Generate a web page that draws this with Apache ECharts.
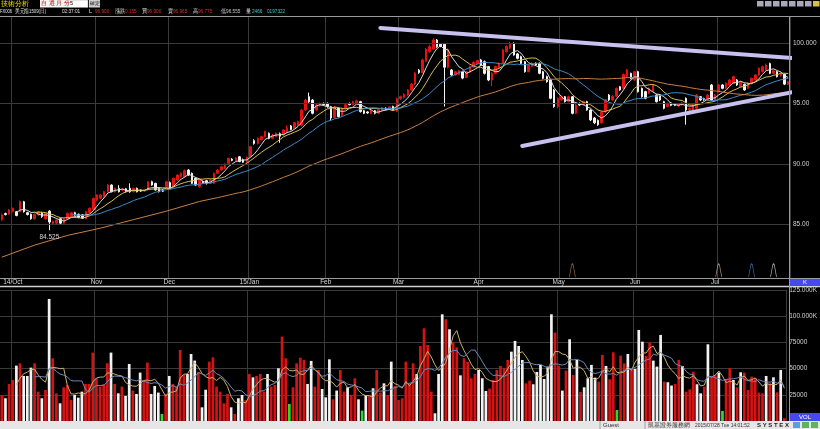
<!DOCTYPE html>
<html><head><meta charset="utf-8">
<script src="https://cdn.jsdelivr.net/npm/echarts@6/dist/echarts.min.js"></script>
<style>html,body{margin:0;padding:0;background:#000;overflow:hidden}#c{width:820px;height:429px}</style>
</head><body><div id="c"></div>
<script>
// ---------- data ----------
const startDate = '2014-09-26';
const skipDates = ['2014-12-25', '2015-01-01'];
const greenDays = ['2014-11-27', '2015-01-19', '2015-02-16', '2015-05-25', '2015-07-03'];
const monthLabelText = {'2014-10':'14/Oct','2014-11':'Nov','2014-12':'Dec','2015-01':'15/Jan','2015-02':'Feb','2015-03':'Mar','2015-04':'Apr','2015-05':'May','2015-06':'Jun','2015-07':'Jul'};
const priceTicks = [85, 90, 95, 100];
const priceTickLabels = {85:'85.00', 90:'90.00', 95:'95.00', 100:'100.000'};
const volTickLabels = {25000:'25000', 50000:'50000', 75000:'75000', 100000:'100.000K', 125000:'125.000K'};

const opens = [85.40,85.90,85.85,86.08,86.06,86.06,86.88,85.98,85.85,85.47,85.79,85.93,85.47,86.10,85.05,85.11,85.47,85.11,85.47,85.66,
85.98,85.85,85.79,85.47,85.98,86.25,87.02,87.16,87.30,87.71,88.26,87.71,87.99,87.85,87.95,87.99,87.71,87.99,87.85,87.77,
87.85,88.54,88.40,87.99,87.85,88.13,88.46,88.13,88.68,88.95,88.95,89.50,89.23,88.82,88.13,88.55,88.62,88.40,88.40,89.23,
89.50,89.64,90.05,90.40,90.30,90.60,90.35,90.15,90.60,91.93,91.70,92.00,92.26,92.54,92.12,92.26,92.50,92.40,92.67,93.15,
92.95,93.22,93.20,94.46,95.56,95.29,94.46,94.80,95.01,95.01,94.74,93.85,94.60,94.00,94.60,95.00,94.90,95.05,95.15,94.40,
94.30,94.19,94.40,94.19,94.40,94.62,94.52,94.75,94.35,95.40,95.50,95.70,96.12,96.60,97.75,97.55,98.50,99.30,99.50,100.25,
99.90,99.90,98.00,97.77,97.36,97.40,97.63,97.15,97.60,98.00,98.30,98.60,98.46,98.05,96.94,97.49,97.95,98.32,99.30,99.56,
99.97,99.10,98.87,98.46,97.63,98.05,98.32,98.32,97.63,97.22,96.94,96.12,94.74,95.29,95.56,95.15,95.56,94.19,95.01,94.88,
95.15,94.46,93.80,93.60,93.40,94.30,95.70,95.29,95.60,96.39,96.25,97.22,97.49,96.94,97.63,96.25,95.98,95.84,96.00,95.70,
95.70,95.15,94.75,95.05,94.95,94.80,94.90,95.43,94.46,94.46,94.60,95.56,95.40,95.29,96.53,95.29,95.98,96.53,96.25,96.53,
96.67,96.94,96.39,96.58,96.25,96.67,96.94,97.36,97.63,97.77,98.30,97.49,97.63,97.30,97.40,96.60];
const closes = [85.80,85.82,86.20,86.34,85.74,86.88,86.06,85.82,85.47,85.85,86.06,85.66,85.93,85.20,85.25,85.38,85.11,85.47,85.93,85.98,
85.79,85.58,85.52,86.06,86.34,87.16,87.44,87.44,87.71,88.26,87.71,87.99,87.71,87.95,87.71,87.71,87.99,87.71,87.77,87.88,
88.54,88.26,87.85,87.71,87.75,88.54,88.00,88.82,89.09,89.23,89.45,89.09,88.40,88.26,88.68,88.45,88.40,88.68,89.23,89.50,
89.78,89.98,90.47,90.30,90.50,90.20,90.15,90.55,91.43,91.70,92.12,92.26,92.67,92.12,92.40,92.54,92.30,92.81,92.95,92.85,
93.42,93.50,94.46,95.29,95.15,94.19,94.88,95.01,94.90,94.74,93.80,94.70,93.91,94.60,94.90,94.90,95.15,95.22,94.33,94.19,
94.22,94.40,94.19,94.50,94.65,94.52,94.72,94.45,95.40,95.56,95.75,96.12,96.60,97.50,97.55,98.60,99.50,99.70,100.25,99.70,
99.75,98.00,99.45,97.36,97.63,97.70,97.10,97.63,98.05,98.40,98.55,98.18,97.49,96.94,97.50,98.05,98.32,99.42,99.70,99.97,
99.01,98.73,98.32,97.63,98.18,98.32,98.18,97.49,97.08,96.80,95.43,94.74,95.43,95.56,95.15,95.56,94.19,94.88,94.88,95.15,
94.46,93.64,93.40,93.25,94.30,95.30,95.29,95.60,96.25,96.12,97.40,97.77,97.08,97.63,95.98,95.56,95.43,96.25,96.53,95.15,
95.29,94.60,95.00,94.85,94.85,94.95,95.05,94.46,94.60,94.88,95.70,95.29,95.30,95.70,95.29,95.70,96.53,96.25,96.67,96.94,
97.22,96.53,96.80,96.12,96.67,97.08,97.36,97.91,98.04,98.18,97.49,97.70,97.22,97.45,96.60,96.80];
const highs = [85.90,85.98,86.28,86.40,86.12,86.98,86.95,86.05,85.90,85.92,86.12,86.05,86.00,86.18,85.33,85.45,85.55,85.52,85.98,86.05,
86.05,85.90,85.85,86.12,86.40,87.22,87.50,87.52,87.78,88.35,88.32,88.05,88.25,88.00,88.02,88.40,88.05,88.05,87.90,87.95,
88.60,88.62,88.45,88.05,87.92,88.60,88.55,88.88,89.15,89.30,89.55,89.58,89.30,88.88,88.75,88.62,88.70,88.75,89.30,89.58,
89.85,90.05,90.52,90.48,90.58,90.65,90.45,90.62,91.50,92.05,92.20,92.35,92.75,92.60,92.48,92.62,92.60,92.88,93.20,93.22,
93.48,93.58,94.55,95.40,95.90,95.35,94.95,95.08,95.08,95.08,94.80,94.80,94.68,94.68,94.98,95.08,95.22,95.30,95.22,94.46,
94.36,94.46,94.46,94.56,94.72,94.68,94.78,94.82,95.48,95.65,95.85,96.20,96.70,97.60,97.85,98.70,99.60,99.85,100.40,100.33,
100.00,100.00,99.55,97.85,97.70,97.78,97.70,97.70,98.12,98.48,98.62,98.68,98.55,98.10,97.60,98.12,98.40,99.50,99.80,100.10,
100.05,99.18,98.95,98.52,98.25,98.40,98.40,98.40,97.70,97.30,97.00,96.20,95.50,95.65,95.62,95.65,95.62,94.95,95.08,95.22,
95.22,94.52,93.88,93.68,94.38,95.38,95.78,95.68,96.32,96.45,97.48,97.85,97.55,97.70,97.70,96.32,96.05,96.32,96.60,95.78,
95.78,95.22,95.08,95.12,95.02,95.02,95.12,95.50,94.68,94.95,95.78,95.62,95.48,95.78,96.60,95.78,96.60,96.60,96.75,97.02,
97.30,97.02,96.88,96.65,96.75,97.15,97.42,97.98,98.12,98.30,98.38,97.78,97.70,97.52,97.48,96.88];
const lows = [85.30,85.75,85.80,86.00,85.68,86.00,85.98,85.75,85.40,85.40,85.72,85.55,85.40,84.525,84.95,85.02,85.05,85.05,85.40,85.60,
85.72,85.52,85.45,85.42,85.92,86.20,86.95,87.10,87.22,87.65,87.65,87.65,87.65,87.78,87.65,87.62,87.65,87.65,87.70,87.70,
87.80,88.20,87.80,87.65,87.68,88.05,87.92,88.05,88.60,88.88,88.90,89.02,88.35,88.20,88.05,88.38,88.30,88.35,88.35,89.15,
89.45,89.58,90.00,90.22,90.25,90.15,90.10,90.10,90.55,91.60,91.62,91.95,92.20,92.05,92.05,92.20,91.75,92.30,92.60,92.78,
92.90,93.15,93.10,94.40,95.05,94.10,94.40,94.72,94.82,94.65,93.55,93.78,93.85,93.95,94.52,94.85,94.85,95.00,94.25,94.12,
94.15,94.12,94.10,94.12,94.35,94.45,94.46,94.38,94.30,95.30,95.42,95.62,96.05,96.55,97.45,97.50,98.45,99.20,99.45,99.60,
99.65,94.75,97.90,97.28,97.30,97.35,97.00,97.10,97.55,97.95,98.25,98.10,97.40,96.85,96.45,97.42,97.90,98.28,99.20,99.50,
98.95,98.65,98.25,97.55,97.58,98.00,98.10,97.42,97.00,96.72,95.35,94.65,94.60,95.20,95.08,95.10,94.10,94.12,94.80,94.82,
94.40,93.55,93.30,93.15,93.32,94.25,95.20,95.22,95.55,96.05,96.20,97.15,97.00,96.88,95.90,95.48,95.35,95.78,95.95,95.08,
95.20,94.52,94.68,94.78,94.78,94.72,94.82,93.25,94.38,94.40,94.52,95.22,95.22,95.22,95.22,95.22,95.90,96.18,96.18,96.45,
96.60,96.45,96.32,96.05,96.18,96.60,96.88,97.30,97.55,97.70,97.42,97.42,97.15,97.22,96.52,96.52];
const volumes = [25000,21900,35500,39300,52900,55100,43100,43100,51000,55100,28200,21900,29800,116300,59900,26600,17100,32300,34500,20300,
25000,22500,28200,35500,35500,65300,40900,33000,35500,55100,65300,35500,26600,33000,24100,54500,29200,26000,46300,38300,
55800,26000,33600,27300,7000,26000,43100,35500,33000,67800,44000,45000,64000,57700,46900,13300,30000,56700,60800,33000,
28200,17100,26000,13300,7000,21900,25000,20000,45000,41800,43100,45000,28200,45000,33000,34500,50400,80500,59900,16500,
32300,55100,60500,58300,35500,57400,33000,48800,30700,22800,58900,20900,29200,48800,28200,32300,25000,40900,20900,10100,
25000,25000,31400,48800,27300,36100,25000,56700,33600,20300,21900,56700,36100,55100,45000,71600,88400,72600,28200,7600,
45000,101700,97000,87500,74800,70300,43700,59900,56400,40900,45000,48800,40900,28800,31100,39300,48800,52600,50400,58300,
66200,76400,71600,58300,36100,38700,35200,46900,53600,40200,52000,101700,84300,52900,29200,48200,78000,44000,58300,27900,
32300,40900,53600,41500,37700,63100,52600,39900,65600,10800,62400,55100,64000,49800,49800,86800,75700,62100,74800,57700,
52000,82100,37700,37100,34000,35500,58300,52600,28200,30400,47200,35200,26600,33000,73200,42500,44000,46300,9800,40200,
50400,39300,32300,46600,46300,29800,42500,40900,27300,26600,43100,36100,41800,27600,48800,3000];
// long average line for the first weeks (before 60 sessions exist)
const ma60Early = [[0,82.3],[9,83.3],[18,84.1],[27,84.7],[36,85.4],[45,86.1],[54,86.9]];
// hand-drawn trend lines: [session index, price]
const upperTrend = [[103.5,101.24],[219.6,98.68]];
const lowerTrend = [[142.3,91.49],[216.3,95.95]];
// event markers: session index and colour
const eventMarks = [[156,'#b07848'],[196,'#c8b088'],[205,'#4a78c0'],[211,'#d0d0d0']];

// ---------- derived ----------
const N = opens.length;
const dates = [];
{
  let d = new Date(startDate + 'T00:00:00Z');
  while (dates.length < N) {
    const wd = d.getUTCDay(); const s = d.toISOString().slice(0,10);
    if (wd !== 0 && wd !== 6 && !skipDates.includes(s)) dates.push(s);
    d.setUTCDate(d.getUTCDate() + 1);
  }
}
const monthStart = new Set();
for (let i = 1; i < N; i++) if (dates[i].slice(0,7) !== dates[i-1].slice(0,7)) monthStart.add(i);
function ma(arr, n) { return arr.map((_, i) => i < n - 1 ? null : +(arr.slice(i - n + 1, i + 1).reduce((a, b) => a + b, 0) / n).toFixed(3)); }
const kdata = opens.map((o, i) => [o, closes[i], lows[i], highs[i]]);
const ma5 = ma(closes, 5), ma10 = ma(closes, 10), ma20 = ma(closes, 20);
const ma60 = ma(closes, 60);
ma60Early.forEach(([k, v]) => { ma60[k] = v; });
const vma5 = ma(volumes, 5), vma10 = ma(volumes, 10);
const volColor = volumes.map((v, i) => greenDays.includes(dates[i]) ? '#2ed82e' : (closes[i] >= opens[i] ? '#d41414' : '#f2f2f2'));

const UP = '#e41212', DOWN = '#f4f4f4', GRID = '#3a3a3a';
const FONT = '"Liberation Sans", "DejaVu Sans", sans-serif';
const T = (t, x, y, fill, size, sx, extra) => Object.assign({type:'text', x, y, silent:true, z:50, scaleX: sx || 1,
  style:{text:t, fill, font:(size||6) + 'px ' + FONT, textVerticalAlign:'top'}}, extra || {});

const chart = echarts.init(document.getElementById('c'), null, {renderer:'canvas'});
chart.setOption({
  backgroundColor: '#000',
  animation: false,
  grid: [
    {left: -1, width: 791, top: 16, height: 262},
    {left: -1, width: 791, top: 289.8, height: 131.5}
  ],
  xAxis: [
    {type:'category', gridIndex:0, data:dates, boundaryGap:true, axisLine:{show:false}, axisTick:{show:false}, axisLabel:{show:false},
     splitLine:{show:true, interval:(i)=>monthStart.has(i), lineStyle:{color:GRID, width:1}}},
    {type:'category', gridIndex:1, data:dates, boundaryGap:true, position:'top', axisLine:{show:false}, axisTick:{show:false},
     axisLabel:{show:true, interval:(i)=>monthStart.has(i), formatter:(v)=>monthLabelText[v.slice(0,7)]||'', color:'#d8d8d8', fontSize:6.5, fontFamily:FONT, margin:4},
     splitLine:{show:true, interval:(i)=>monthStart.has(i), lineStyle:{color:GRID, width:1}}},
    {type:'value', gridIndex:0, min:-0.5, max:N-0.5, show:false}
  ],
  yAxis: [
    {type:'value', gridIndex:0, position:'right', min:80.578, max:102.231, axisLine:{show:false}, axisTick:{show:false}, axisLabel:{show:false}, splitLine:{show:false}},
    {type:'value', gridIndex:1, position:'right', min:0, max:125000, interval:25000, axisLine:{show:false}, axisTick:{show:false},
     axisLabel:{show:true, formatter:(v)=>volTickLabels[v]||'', color:'#d0d0d0', fontSize:6.5, fontFamily:FONT, margin:3},
     splitLine:{show:true, showMinLine:false, lineStyle:{color:GRID, width:1}}}
  ],
  series: [
    {type:'candlestick', xAxisIndex:0, yAxisIndex:0, data:kdata, barWidth:2,
     itemStyle:{color:UP, color0:DOWN, borderColor:UP, borderColor0:DOWN, borderWidth:1},
     markLine:{silent:true, symbol:['none','none'], animation:false,
       lineStyle:{color:GRID, type:'solid', width:1},
       label:{show:true, position:'end', distance:3, color:'#d0d0d0', fontSize:6.5, fontFamily:FONT, formatter:(p)=>priceTickLabels[p.value]},
       data: priceTicks.map(v=>({yAxis:v}))},
     markPoint:{silent:true, animation:false,
       data:[{type:'min', valueDim:'lowest', symbol:'rect', symbolSize:1, itemStyle:{color:'rgba(0,0,0,0)'},
         label:{show:true, position:'bottom', distance:3, color:'#d8d8d8', fontSize:6.5, fontFamily:FONT, formatter:(p)=>p.value.toFixed(3)}}]},
     z:3},
    {type:'line', xAxisIndex:0, yAxisIndex:0, data:ma5, symbol:'none', lineStyle:{color:'#dcdcdc', width:1}, z:4},
    {type:'line', xAxisIndex:0, yAxisIndex:0, data:ma10, symbol:'none', lineStyle:{color:'#d8c050', width:1}, z:4},
    {type:'line', xAxisIndex:0, yAxisIndex:0, data:ma20, symbol:'none', lineStyle:{color:'#3c8cc8', width:1}, z:4},
    {type:'line', xAxisIndex:0, yAxisIndex:0, data:ma60, symbol:'none', connectNulls:true, lineStyle:{color:'#c88040', width:1}, z:4},
    {type:'line', xAxisIndex:2, yAxisIndex:0, data:upperTrend, symbol:'none', clip:false, lineStyle:{color:'#c8c0ee', width:4, cap:'round'}, z:6},
    {type:'line', xAxisIndex:2, yAxisIndex:0, data:lowerTrend, symbol:'none', clip:false, lineStyle:{color:'#c8c0ee', width:4, cap:'round'}, z:6},
    {type:'scatter', xAxisIndex:2, yAxisIndex:0, data:eventMarks.map(e=>({value:[e[0],81.2], itemStyle:{color:'rgba(0,0,0,0)', borderColor:e[1], borderWidth:1}})),
     symbol:'path://M0,14 L2.2,2 Q3,0 3.8,2 L6,14', symbolSize:[6,13], z:5},
    {type:'bar', xAxisIndex:1, yAxisIndex:1, data:volumes, barWidth:2.7, itemStyle:{color:(p)=>volColor[p.dataIndex]}, z:3},
    {type:'line', xAxisIndex:1, yAxisIndex:1, data:vma5, symbol:'none', lineStyle:{color:'#c8b070', width:1}, z:4},
    {type:'line', xAxisIndex:1, yAxisIndex:1, data:vma10, symbol:'none', lineStyle:{color:'#7088b8', width:1}, z:4}
  ],
  graphic: [
    {type:'line', silent:true, z:40, shape:{x1:0, y1:16.5, x2:820, y2:16.5}, style:{stroke:'#9a9a9a', lineWidth:1}},
    {type:'line', silent:true, z:40, shape:{x1:0, y1:278.5, x2:820, y2:278.5}, style:{stroke:'#9a9a9a', lineWidth:1}},
    {type:'line', silent:true, z:40, shape:{x1:0, y1:286.5, x2:820, y2:286.5}, style:{stroke:'#d0d0d0', lineWidth:1.5}},
    {type:'line', silent:true, z:40, shape:{x1:789.5, y1:16, x2:789.5, y2:421}, style:{stroke:'#9a9a9a', lineWidth:1}},
    {type:'rect', silent:true, z:41, shape:{x:790, y:279, width:30, height:7}, style:{fill:'#4848f0'}},
    T('K', 805, 279.5, '#ffffff', 6, 1, {style:{text:'K', fill:'#fff', font:'6px ' + FONT, textAlign:'center', textVerticalAlign:'top'}}),
    {type:'rect', silent:true, z:41, shape:{x:790, y:413, width:30, height:8}, style:{fill:'#4848f0'}},
    T('VOL', 805, 414, '#ffffff', 6, 1, {style:{text:'VOL', fill:'#fff', font:'6px ' + FONT, textAlign:'center', textVerticalAlign:'top'}}),
    {type:'rect', silent:true, z:41, shape:{x:0, y:421, width:820, height:8}, style:{fill:'#e6e6e6'}},
    {type:'line', silent:true, z:42, shape:{x1:600, y1:421, x2:600, y2:429}, style:{stroke:'#a0a0a0', lineWidth:1}},
    {type:'line', silent:true, z:42, shape:{x1:645, y1:421, x2:645, y2:429}, style:{stroke:'#a0a0a0', lineWidth:1}},
    T('Guest', 603, 422, '#303030', 6),
    T('凱基證券服務網', 648, 422, '#303030', 6),
    T('2015/07/28 Tue 14:01:52', 695, 422, '#303030', 6, 0.82),
    T('S Y S T E X', 757, 422, '#202020', 6, 1, {style:{text:'S Y S T E X', fill:'#202020', font:'bold 6px ' + FONT, textVerticalAlign:'top'}}),
    {type:'rect', silent:true, z:41, shape:{x:793, y:422, width:7, height:6}, style:{fill:'#5aa0d8'}},
    {type:'rect', silent:true, z:41, shape:{x:802, y:422, width:7, height:6}, style:{fill:'#58b858'}},
    {type:'rect', silent:true, z:41, shape:{x:811, y:422, width:7, height:6}, style:{fill:'#58b858'}},
    // header
    T('技術分析', 1, 0.5, '#f0e000', 7),
    {type:'rect', silent:true, z:41, shape:{x:40, y:0, width:28, height:7.5}, style:{fill:'#f4f4f4'}},
    T('自 選 月 分', 41, 0.8, '#c00000', 6),
    {type:'rect', silent:true, z:41, shape:{x:68, y:0, width:20, height:7.5}, style:{fill:'#ffffff', stroke:'#909090', lineWidth:0.5}},
    T('5', 70, 0.8, '#000000', 5.5),
    {type:'rect', silent:true, z:41, shape:{x:89, y:0, width:11, height:7.5}, style:{fill:'#d0d0d0'}},
    T('確定', 89.5, 1, '#000000', 5),
    ...[757,765,773,781,789,797,805].map(x=>({type:'rect', silent:true, z:41, shape:{x:x, y:1, width:6.5, height:5.5}, style:{fill:'#a8a8b8'}})),
    {type:'rect', silent:true, z:41, shape:{x:813, y:1, width:6.5, height:5.5}, style:{fill:'#d8c040'}},
    T('FX006', 0, 8.5, '#e0e0e0', 5.5, 0.75),
    T('美元指1509(日)', 15, 8.5, '#e0e0e0', 5.5, 0.78),
    T('02:37:01', 62, 8.5, '#e0e0e0', 5.5, 0.85),
    T('L', 89, 8.5, '#e0e0e0', 5.5),
    T('96.900', 95, 8.5, '#d83030', 5.5, 0.85),
    T('漲跌', 115, 8.5, '#e0e0e0', 5.5, 0.85),
    T('0.155', 125, 8.5, '#d83030', 5.5, 0.85),
    T('買', 142, 8.5, '#e0e0e0', 5.5, 0.85),
    T('96.900', 147, 8.5, '#d83030', 5.5, 0.85),
    T('賣', 168, 8.5, '#e0e0e0', 5.5, 0.85),
    T('96.965', 173, 8.5, '#d83030', 5.5, 0.85),
    T('高', 193, 8.5, '#e0e0e0', 5.5, 0.85),
    T('96.775', 198, 8.5, '#d83030', 5.5, 0.85),
    T('低96.555', 221, 8.5, '#c8c8c8', 5.5, 0.85),
    T('量', 246, 8.5, '#e0e0e0', 5.5, 0.85),
    T('2466', 252, 8.5, '#40c8c8', 5.5, 0.85),
    T('0197322', 267, 8.5, '#40c8c8', 5.5, 0.85)
  ]
});
</script></body></html>
